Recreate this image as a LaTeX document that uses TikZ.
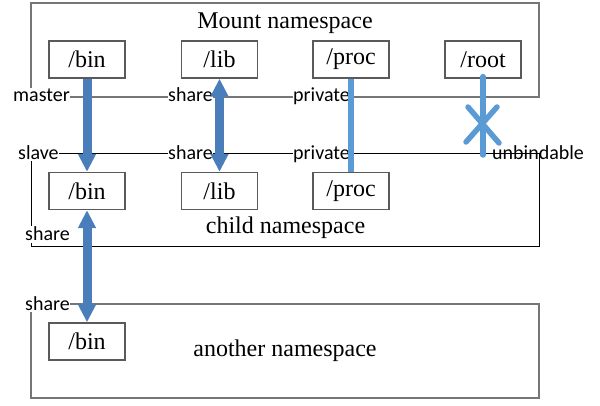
\documentclass[tikz,border=0pt]{standalone}
\usepackage{fontspec}
\setmainfont{Liberation Serif}
\newfontfamily\calib{Carlito}
\usetikzlibrary{arrows.meta}
\definecolor{darkarrow}{RGB}{74,126,187}
\definecolor{lightline}{RGB}{91,155,213}
\definecolor{boxgray}{RGB}{118,118,118}
\definecolor{smallgray}{RGB}{90,90,90}
\begin{document}
\begin{tikzpicture}[x=1pt,y=-1pt,
  nsbox/.style={draw=boxgray,line width=1.5pt,minimum width=508pt,minimum height=94pt,inner sep=0pt},
  childbox/.style={draw=black,line width=1pt,minimum width=508pt,minimum height=93pt,inner sep=0pt},
  dirbox/.style={draw=smallgray,line width=1.3pt,fill=white,minimum width=76pt,minimum height=37pt,inner sep=0pt,font=\fontsize{24}{28}\selectfont},
  nstitle/.style={anchor=base,inner sep=0pt,font=\fontsize{24}{28}\selectfont},
  lbl/.style={anchor=base west,inner xsep=0.5pt,inner ysep=1.5pt,fill=white,font=\calib\fontsize{20}{24}\selectfont},
  lblnofill/.style={anchor=base west,inner xsep=0.5pt,inner ysep=1.5pt,font=\calib\fontsize{20}{24}\selectfont},
  onearrow/.style={draw=darkarrow,line width=9pt,-{Triangle[width=17pt,length=18pt]}},
  twoarrow/.style={draw=darkarrow,line width=9pt,{Triangle[width=17pt,length=18pt]}-{Triangle[width=17pt,length=18pt]}},
  privline/.style={draw=lightline,line width=5.5pt},
  unbline/.style={draw=lightline,line width=5.5pt,line cap=round}
]
\useasboundingbox (0,0) rectangle (600,406);
% namespace boxes
\node[nsbox] (mount) at (285,50) {};
\node[childbox] (child) at (285,200.5) {};
\node[nsbox] (another) at (285,351) {};
\node[nstitle] (mounttitle) at (285,29) {Mount namespace};
\node[nstitle] (childtitle) at (285.5,234) {child namespace};
\node[nstitle] (anothertitle) at (285,356) {another namespace};
% directory boxes
\node[dirbox] (bina) at (87,59.5) {/bin};
\node[dirbox] (liba) at (219.5,59.5) {/lib};
\node[dirbox] (proca) at (351,59.5) {/proc};
\node[dirbox] (roota) at (483,59.5) {/root};
\node[dirbox] (binb) at (87,191) {/bin};
\node[dirbox] (libb) at (219.5,191) {/lib};
\node[dirbox] (procb) at (351,191) {/proc};
\node[dirbox] (binc) at (87,341.5) {/bin};
% labels
\node[lbl] (lmaster) at (12.5,102) {master};
\node[lbl] (lsharea) at (167.5,102) {share};
\node[lbl] (lpriva) at (292.5,102) {private};
\node[lbl] (lslave) at (17.5,159.5) {slave};
\node[lbl] (lshareb) at (167.5,159.5) {share};
\node[lbl] (lprivb) at (292.5,159.5) {private};
\node[lblnofill] (lunb) at (491.5,160) {unbindable};
\node[lbl] (lsharec) at (24.5,241) {share};
\node[lbl] (lshared) at (24.5,310) {share};
% connectors
\draw[onearrow] (bina.south) -- (binb.north);
\draw[twoarrow] (liba.south) -- (libb.north);
\draw[privline] (proca.south) -- (procb.north);
\coordinate (rootend) at (483,155);
\draw[unbline] ([yshift=2pt]roota.south) -- (rootend);
\coordinate (xa) at (468,107);
\coordinate (xb) at (499,143);
\coordinate (xc) at (497,107);
\coordinate (xd) at (466,142);
\draw[unbline] (xa) -- (xb);
\draw[unbline] (xc) -- (xd);
\draw[twoarrow] (binb.south) -- (binc.north);
\end{tikzpicture}
\end{document}
